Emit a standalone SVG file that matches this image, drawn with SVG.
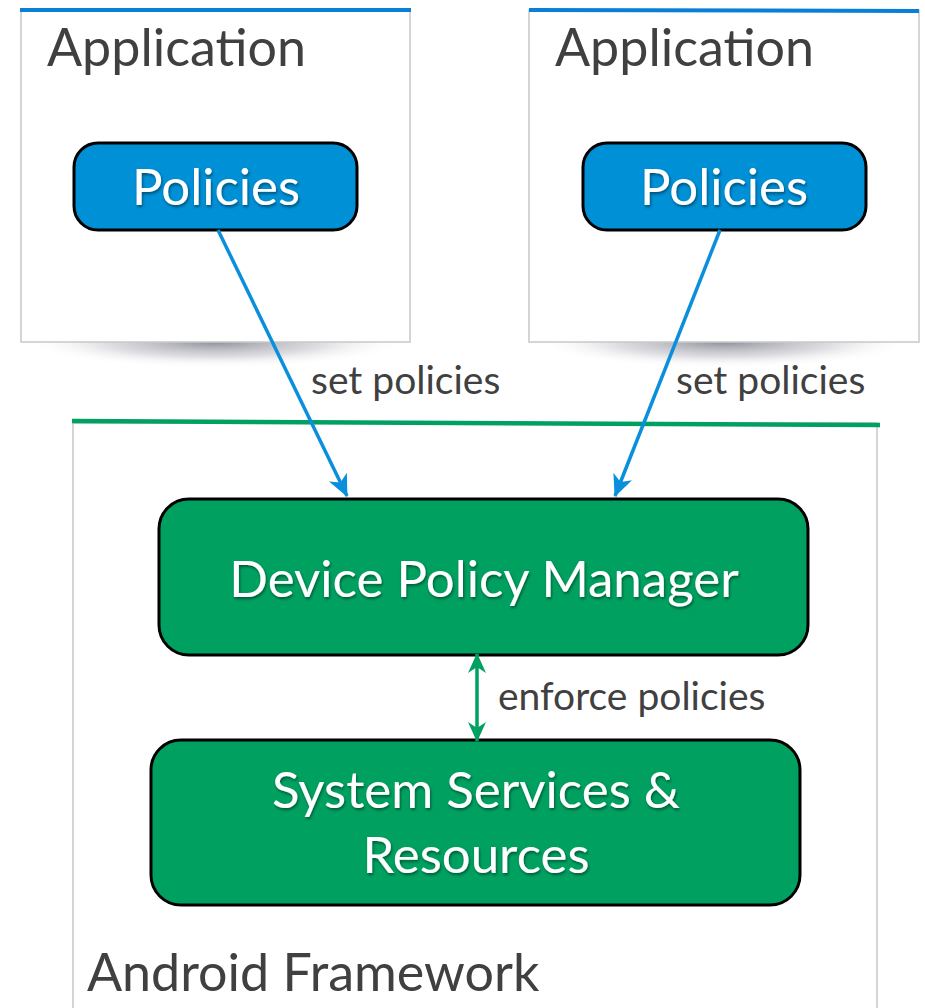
<svg xmlns="http://www.w3.org/2000/svg" width="925" height="1008" viewBox="0 0 925 1008">
  <defs>
    <radialGradient id="boxShadow" cx="0.5" cy="0.5" r="0.5">
      <stop offset="0" stop-color="#8a8a96" stop-opacity="0.95"/>
      <stop offset="0.55" stop-color="#bdbdc6" stop-opacity="0.55"/>
      <stop offset="1" stop-color="#ffffff" stop-opacity="0"/>
    </radialGradient>
    <filter id="textShadow" x="-10%" y="-30%" width="120%" height="160%">
      <feDropShadow dx="1" dy="2" stdDeviation="1.5" flood-color="#000" flood-opacity="0.45"/>
    </filter>
    <marker id="arrowBlue" viewBox="0 0 22 20" refX="21" refY="10" markerWidth="22" markerHeight="20" markerUnits="userSpaceOnUse" orient="auto-start-reverse">
      <path d="M0,0 L22,10 L0,20 L6,10 Z" fill="#0a8fdc"/>
    </marker>
    <marker id="arrowGreen" viewBox="0 0 20 18" refX="19" refY="9" markerWidth="20" markerHeight="18" markerUnits="userSpaceOnUse" orient="auto-start-reverse">
      <path d="M0,0 L20,9 L0,18 L6,9 Z" fill="#00a060"/>
    </marker>
  </defs>
  <style>
    .frame { fill: #ffffff; stroke: #c8c8c8; stroke-width: 1.5; }
    .appBar { stroke: #0a7fd6; stroke-width: 4; }
    .fwBar { stroke: #00a060; stroke-width: 4.5; }
    .policy { fill: #0090d6; stroke: #000; stroke-width: 3; }
    .core { fill: #00a160; stroke: #000; stroke-width: 3; }
    .title { font-family: Lato, "Open Sans", sans-serif; font-size: 52px; fill: #404040; }
    .label { font-family: Lato, "Open Sans", sans-serif; font-size: 39px; fill: #404040; }
    .inner { font-family: Lato, "Open Sans", sans-serif; fill: #ffffff; text-anchor: middle; filter: url(#textShadow); }
    .blueLink { stroke: #0a8fdc; stroke-width: 3.5; fill: none; }
    .greenLink { stroke: #00a060; stroke-width: 3.5; fill: none; }
  </style>

  <rect width="925" height="1008" fill="#ffffff"/>

  <!-- Android Framework container -->
  <g id="android-framework">
    <rect class="frame" x="73" y="423" width="804" height="600"/>
    <line class="fwBar" x1="72" y1="421" x2="880" y2="425"/>
    <text class="title" x="87" y="991" font-size="53">Android Framework</text>
  </g>

  <!-- Left application -->
  <g id="app-left">
    <ellipse cx="215" cy="342" rx="190" ry="26" fill="url(#boxShadow)"/>
    <rect class="frame" x="21" y="10" width="389" height="332"/>
    <line class="appBar" x1="20" y1="10" x2="411" y2="10"/>
    <text class="title" x="47" y="66">Application</text>
  </g>
  <g id="policies-left">
    <rect class="policy" x="74" y="143" width="283" height="87" rx="24"/>
    <text class="inner" x="216" y="205" font-size="51">Policies</text>
  </g>

  <!-- Right application -->
  <g id="app-right">
    <ellipse cx="724" cy="342" rx="190" ry="26" fill="url(#boxShadow)"/>
    <rect class="frame" x="529" y="10" width="390" height="332"/>
    <line class="appBar" x1="529" y1="10" x2="919" y2="11"/>
    <text class="title" x="555" y="66">Application</text>
  </g>
  <g id="policies-right">
    <rect class="policy" x="583" y="143" width="283" height="87" rx="24"/>
    <text class="inner" x="724" y="205" font-size="51">Policies</text>
  </g>

  <!-- Device Policy Manager -->
  <g id="device-policy-manager">
    <rect class="core" x="159" y="499" width="649" height="156" rx="30"/>
    <text class="inner" x="484" y="597" font-size="51">Device Policy Manager</text>
  </g>

  <!-- System Services & Resources -->
  <g id="system-services">
    <rect class="core" x="151" y="740" width="649" height="165" rx="30"/>
    <text class="inner" x="476" y="808" font-size="51">System Services &amp;</text>
    <text class="inner" x="476" y="873" font-size="51">Resources</text>
  </g>

  <!-- Connectors -->
  <g id="connectors">
    <line class="blueLink" x1="218" y1="230" x2="347" y2="496" marker-end="url(#arrowBlue)"/>
    <line class="blueLink" x1="720" y1="230" x2="615" y2="496" marker-end="url(#arrowBlue)"/>
    <line class="greenLink" x1="477" y1="654" x2="477" y2="741" marker-start="url(#arrowGreen)" marker-end="url(#arrowGreen)"/>
    <text class="label" x="311" y="394">set policies</text>
    <text class="label" x="676" y="394">set policies</text>
    <text class="label" x="498" y="710">enforce policies</text>
  </g>
</svg>
